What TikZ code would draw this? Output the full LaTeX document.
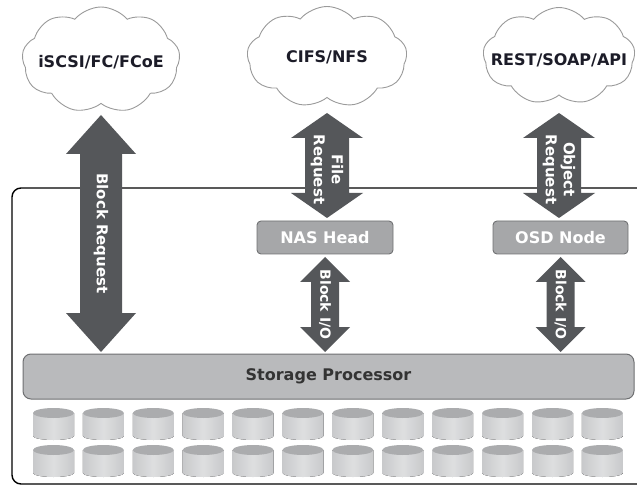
\documentclass[tikz,border=0pt]{standalone}
\usepackage{fontspec}
\setmainfont{DejaVu Sans}
\usetikzlibrary{shapes.symbols,calc}

\definecolor{arrowgray}{HTML}{55575A}
\definecolor{cloudline}{HTML}{9A9A9A}
\definecolor{boxfill}{HTML}{A6A7A9}
\definecolor{boxline}{HTML}{707173}
\definecolor{spfill}{HTML}{B9BABC}
\definecolor{spline}{HTML}{6E6F71}
\definecolor{disktop}{HTML}{ABACAE}
\definecolor{diskside}{HTML}{C8C9CB}
\definecolor{diskhi}{HTML}{DEDFE0}
\definecolor{labelink}{HTML}{1C1C28}

% vertical double-headed block arrow between two tips:
% #1 top tip, #2 bottom tip, #3 shaft half width, #4 head half width, #5 head length
\newcommand\vdarrow[5]{%
  \fill[arrowgray] (#1) -- ($(#1)+(#4,#5)$) -- ($(#1)+(#3,#5)$)
    -- ($(#2)+(#3,-#5)$) -- ($(#2)+(#4,-#5)$) -- (#2)
    -- ($(#2)+(-#4,-#5)$) -- ($(#2)+(-#3,-#5)$)
    -- ($(#1)+(-#3,#5)$) -- ($(#1)+(-#4,#5)$) -- cycle;}

\tikzset{
  protocol/.style={cloud, draw=cloudline, fill=white, line width=0.9,
    cloud puffs=9, cloud puff arc=100, inner sep=0pt},
  protolabel/.style={text=labelink, inner sep=0pt,
    font=\fontsize{16}{18}\selectfont\bfseries},
  headbox/.style={draw=boxline, fill=boxfill, line width=0.9, rounded corners=4,
    text=white, font=\fontsize{16}{18}\selectfont\bfseries,
    minimum height=33, inner sep=0pt},
  procbox/.style={draw=spline, fill=spfill, line width=1, rounded corners=8,
    text=black!80, font=\fontsize{16}{18}\selectfont\bfseries, inner sep=0pt},
  arrowlabel/.style={rotate=-90, text=white, align=center, inner sep=0pt,
    font=\fontsize{15}{18}\selectfont\bfseries},
}

\begin{document}
\begin{tikzpicture}[x=1pt, y=-1pt]
\useasboundingbox (0,0) rectangle (637,486);

% enclosure of the storage system
\draw[line width=1.4, rounded corners=9] (700,188) -- (12,188) -- (12,484) -- (700,484);

% access protocols
\node[protocol, minimum width=158, minimum height=106] (c1) at (101,60) {};
\node[protocol, minimum width=160, minimum height=101] (c2) at (327,57) {};
\node[protocol, minimum width=152, minimum height=97] (c3) at (559,56) {};
\node[protolabel] (t1) at ($(c1.center)+(0,2)$) {iSCSI/FC/FCoE};
\node[protolabel] (t2) at (c2.center) {CIFS/NFS};
\node[protolabel] (t3) at ($(c3.center)+(0,4)$) {REST/SOAP/API};

% heads and processor
\node[headbox, minimum width=136] (nas) at (325,237.5) {NAS Head};
\node[headbox, minimum width=135] (osd) at (560.5,237.5) {OSD Node};
\node[procbox, minimum width=611, minimum height=45] (sp) at (328.5,376.5) {Storage Processor};

% disk shelf
\foreach \i in {0,...,11}{
  \foreach \t in {408,445}{
    \pgfmathsetmacro\cx{53.5+49.9*\i}
    \fill[left color=diskside, right color=diskside, middle color=diskhi]
      (\cx-20.5,\t+5) -- (\cx-20.5,\t+28)
      arc[start angle=180, end angle=0, x radius=20.5, y radius=4]
      -- (\cx+20.5,\t+5) -- cycle;
    \fill[disktop] (\cx,\t+5) ellipse[x radius=20.5, y radius=5];
  }
}

% arrow tips
\coordinate (brT) at (c1.south |- 0,115);
\coordinate (brB) at (c1.south |- 0,352);
\coordinate (frT) at (c2.south |- 0,113);
\coordinate (frB) at (c2.south |- 0,218);
\coordinate (orT) at (c3.south |- 0,113);
\coordinate (orB) at (c3.south |- 0,218);
\coordinate (nbT) at (nas.south |- 0,257);
\coordinate (nbB) at (nas.south |- 0,352);
\coordinate (obT) at (osd.south |- 0,257);
\coordinate (obB) at (osd.south |- 0,352);

% request and I/O paths
\vdarrow{brT}{brB}{21}{35}{39}
\vdarrow{frT}{frB}{22}{36}{25}
\vdarrow{orT}{orB}{22}{36}{25}
\vdarrow{nbT}{nbB}{14}{25}{25}
\vdarrow{obT}{obB}{14}{25}{25}

\node[arrowlabel] (brL) at ($(brT)!0.5!(brB)$) {Block Request};
\node[arrowlabel] (frL) at ($(frT)!0.5!(frB)+(0,4)$) {File\\Request};
\node[arrowlabel] (orL) at ($(orT)!0.5!(orB)+(0,4)$) {Object\\Request};
\node[arrowlabel, font=\fontsize{14}{16}\selectfont\bfseries] (nbL) at ($(nbT)!0.5!(nbB)$) {Block I/O};
\node[arrowlabel, font=\fontsize{14}{16}\selectfont\bfseries] (obL) at ($(obT)!0.5!(obB)$) {Block I/O};
\end{tikzpicture}
\end{document}
